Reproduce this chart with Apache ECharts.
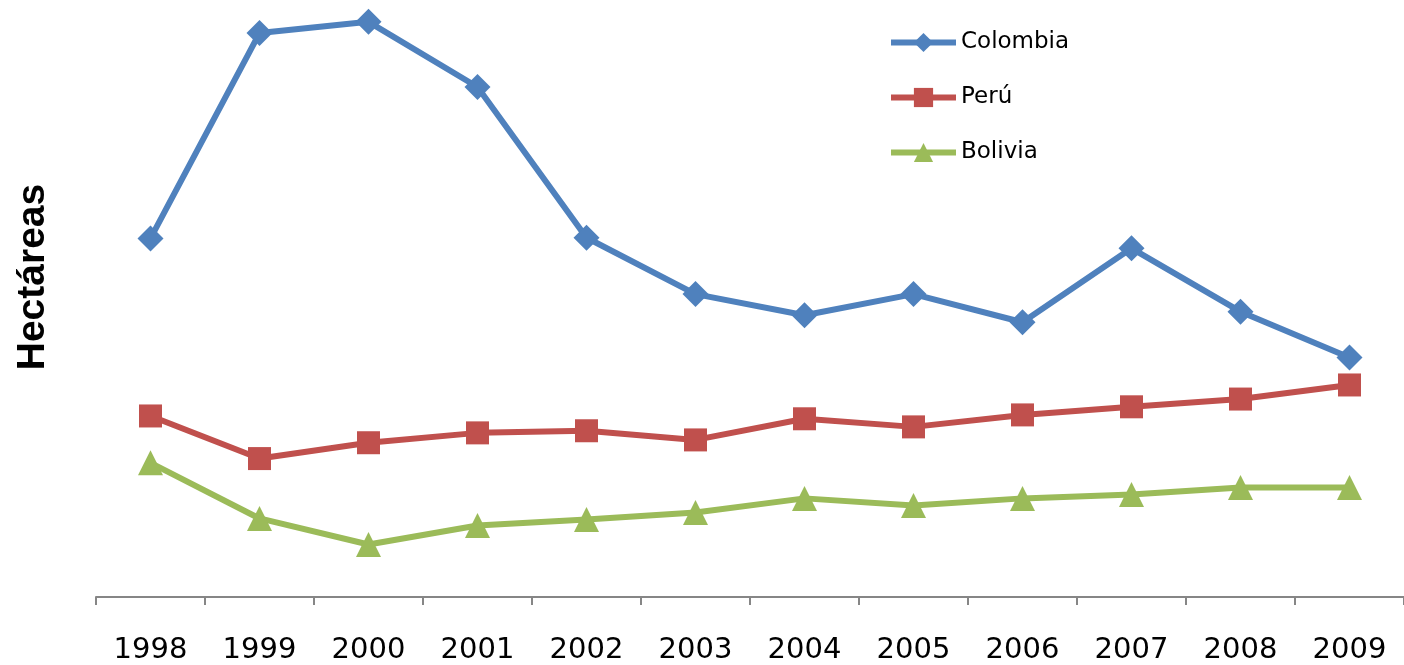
<!DOCTYPE html>
<html><head><meta charset="utf-8">
<script src="https://cdn.jsdelivr.net/npm/echarts@6/dist/echarts.min.js"></script>
<style>html,body{margin:0;padding:0;background:#fff}#c{width:1404px;height:665px}</style>
</head><body><div id="c"></div>
<script>
const categories = ['1998','1999','2000','2001','2002','2003','2004','2005','2006','2007','2008','2009'];
const colombia = [101800,160100,163300,144800,102000,86000,80000,86000,78000,99000,81000,68000];
const peru = [51400,39300,43800,46600,47200,44600,50600,48300,51700,54000,56200,60200];
const bolivia = [38100,22300,14900,20300,22000,24000,28000,26000,28000,29100,31100,31100];
const yTitle = 'Hectáreas';

const chart = echarts.init(document.getElementById('c'));
const mk = (name, data, color, symbol, size) => ({
  name, type: 'line', data, symbol, symbolSize: size,
  lineStyle: {color, width: 6}, itemStyle: {color},
  emphasis: {disabled: true}, animation: false
});
chart.setOption({
  animation: false,
  grid: {left: 96, right: 0, top: 0, bottom: 65, containLabel: false},
  legend: {
    orient: 'vertical', left: 883, top: 26, itemGap: 32,
    itemWidth: 65, itemHeight: 24,
    lineStyle: {width: 6},
    textStyle: {fontFamily: 'DejaVu Sans', fontSize: 23, color: '#000', padding: [0,0,0,0]},
    data: ['Colombia','Perú','Bolivia']
  },
  xAxis: {
    type: 'category', data: categories, boundaryGap: true,
    axisLine: {lineStyle: {color: '#868686', width: 2}},
    axisTick: {show: true, length: 8, lineStyle: {color: '#868686', width: 2}},
    axisLabel: {fontFamily: 'DejaVu Sans', fontSize: 29, color: '#000', margin: 39, interval: 0}
  },
  yAxis: {
    type: 'value', min: 0, max: 169500,
    axisLine: {show: false}, axisTick: {show: false}, axisLabel: {show: false}, splitLine: {show: false}
  },
  graphic: [{
    type: 'text', x: 33, y: 277, rotation: Math.PI/2,
    style: {text: yTitle, font: 'bold 39px "Liberation Sans", Arial, sans-serif', fill: '#000', align: 'center', verticalAlign: 'middle'}
  }],
  series: [
    mk('Colombia', colombia, '#4F81BD', 'diamond', 26),
    mk('Perú', peru, '#C0504D', 'rect', 23),
    mk('Bolivia', bolivia, '#9BBB59', 'triangle', 25)
  ]
});
</script></body></html>
